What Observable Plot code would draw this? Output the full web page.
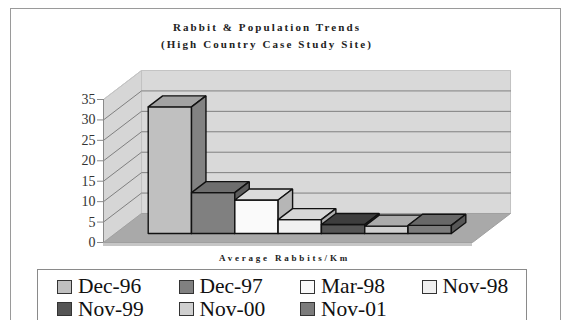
<!DOCTYPE html>
<html>
<head>
<meta charset="utf-8">
<script src="https://cdn.jsdelivr.net/npm/d3@7"></script>
<script src="https://cdn.jsdelivr.net/npm/@observablehq/plot@0.6"></script>
<style>
  body { margin: 0; background: #fff; }
  #wrap { position: relative; width: 572px; height: 320px; overflow: hidden; font-family: "Liberation Serif", "Times New Roman", Times, serif; }
  #frame { position: absolute; left: 10px; top: 8px; width: 551px; height: 340px; border: 1px solid #9a9a9a; box-sizing: border-box; }
  .ttl { position: absolute; left: 0; width: 534px; text-align: center; font-weight: bold; font-size: 11px; line-height: 14px; letter-spacing: 2.1px; color: #222; white-space: nowrap; }
  #xlab { position: absolute; left: 0; width: 569px; top: 252px; text-align: center; font-weight: bold; font-size: 9px; line-height: 12px; letter-spacing: 2.8px; color: #222; white-space: nowrap; }
  #chart { position: absolute; left: 0; top: 0; }
  #legend { position: absolute; left: 37px; top: 269px; width: 490px; height: 70px; border: 1px solid #8a8a8a; box-sizing: border-box; background: #fff; }
  .item { position: absolute; height: 21px; display: flex; align-items: center; font-size: 21.5px; line-height: 21px; color: #111; white-space: nowrap; font-weight: normal; }
  .sw { width: 15px; height: 14px; border: 1.5px solid #333; box-sizing: border-box; margin-right: 6px; }
</style>
</head>
<body>
<div id="wrap">
  <div id="frame"></div>
  <div id="chart"></div>
  <div class="ttl" style="top:20px">Rabbit &amp; Population Trends</div>
  <div class="ttl" style="top:37px">(High Country Case Study Site)</div>
  <div id="xlab"></div>
  <div id="legend"></div>
</div>
<script>
// ---- data ----
const series = ["Dec-96", "Dec-97", "Mar-98", "Nov-98", "Nov-99", "Nov-00", "Nov-01"];
const values = [31, 10, 8.2, 3.4, 2.2, 1.8, 2.0];
const frontColors = ["#c0c0c0", "#808080", "#fafafa", "#f0f0f0", "#555555", "#cfcfcf", "#7c7c7c"];
const topColors   = ["#a2a2a2", "#6e6e6e", "#dcdcdc", "#d6d6d6", "#3e3e3e", "#ababab", "#686868"];
const sideColors  = ["#828282", "#5c5c5c", "#b6b6b6", "#b0b0b0", "#333333", "#959595", "#575757"];
const yTicks = [0, 5, 10, 15, 20, 25, 30, 35];
const axisLabel = "Average Rabbits/Km";

// ---- pseudo-3D layout (oblique projection in data units) ----
const X0 = -0.76, X1 = series.length + 0.76;   // category extent with gap
const DX = 0.878, DY = 7.1;                       // full depth offset
const Z0 = 0.31, Z1 = 0.69;                       // bar depth
const P = (x, y, z) => ({x: x + z * DX, y: y + z * DY});
const yMax = d3.max(yTicks);

function poly(id, fill, stroke, pts) {
  const ps = pts.map(([x, y, z]) => ({id, fill, stroke, ...P(x, y, z)}));
  ps.push({...ps[0]});
  return ps;
}

const walls = [
  ...poly("side", "#d6d6d6", "#c2c2c2", [[X0, 0, 0], [X0, yMax, 0], [X0, yMax, 1], [X0, 0, 1]]),
  ...poly("back", "#d9d9d9", "#c2c2c2", [[X0, 0, 1], [X0, yMax, 1], [X1, yMax, 1], [X1, 0, 1]]),
  ...poly("floor", "#a9a9a9", "#a0a0a0", [[X0, 0, 0], [X1, 0, 0], [X1, 0, 1], [X0, 0, 1]])
];

const grid = yTicks.filter(t => t > 0).flatMap(t => [
  {t, ...P(X0, t, 0)}, {t, ...P(X0, t, 1)}, {t, ...P(X1, t, 1)}
]);

const bars = values.flatMap((v, i) => [
  ...poly("f" + i, frontColors[i], "#111", [[i, 0, Z0], [i + 1, 0, Z0], [i + 1, v, Z0], [i, v, Z0]]),
  ...poly("t" + i, topColors[i], "#111", [[i, v, Z0], [i + 1, v, Z0], [i + 1, v, Z1], [i, v, Z1]]),
  ...poly("s" + i, sideColors[i], "#111", [[i + 1, 0, Z0], [i + 1, v, Z0], [i + 1, v, Z1], [i + 1, 0, Z1]])
]);

const chart = Plot.plot({
  width: 572,
  height: 270,
  marginLeft: 103,
  marginRight: 100,
  marginTop: 99,
  marginBottom: 28,
  x: {domain: [X0, X1], axis: null},
  y: {domain: [0, yMax], axis: null},
  color: {type: "identity"},
  style: {background: "transparent", fontFamily: "'Liberation Serif', 'Times New Roman', Times, serif", overflow: "visible"},
  marks: [
    Plot.line(walls, {x: "x", y: "y", z: "id", fill: "fill", stroke: "stroke", strokeWidth: 1}),
    Plot.line(grid, {x: "x", y: "y", z: "t", stroke: d => d.t === yMax ? "#c4c4c4" : "#808080", strokeWidth: 1}),
    Plot.ruleY([0], {x1: X0, x2: X1, stroke: "#c6c6c6", strokeWidth: 3, dy: 2}),
    Plot.ruleX([X0], {y1: 0, y2: yMax, stroke: "#8a8a8a"}),
    Plot.axisY({ticks: yTicks, tickSize: 6, tickPadding: 2, fontSize: 14, label: null, stroke: "#8a8a8a", fill: "#333", fontFamily: "'Liberation Serif', 'Times New Roman', serif"}),
    Plot.line(bars, {x: "x", y: "y", z: "id", fill: "fill", stroke: "stroke", strokeWidth: 1.4, strokeLinejoin: "miter"})
  ]
});
document.getElementById("chart").appendChild(chart);
document.getElementById("xlab").textContent = axisLabel;

// ---- legend ----
const legend = document.getElementById("legend");
series.forEach((s, i) => {
  const col = i % 4, row = Math.floor(i / 4);
  const it = document.createElement("div");
  it.className = "item";
  it.style.left = (19 + col * 121.5) + "px";
  it.style.top = (6 + row * 22.5) + "px";
  const sw = document.createElement("div");
  sw.className = "sw";
  sw.style.background = frontColors[i];
  const tx = document.createElement("span");
  tx.textContent = s;
  it.appendChild(sw);
  it.appendChild(tx);
  legend.appendChild(it);
});
</script>
</body>
</html>
